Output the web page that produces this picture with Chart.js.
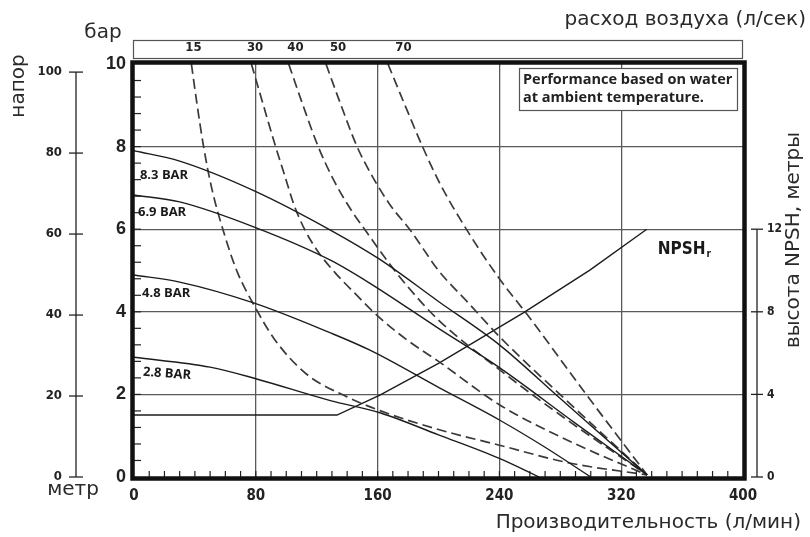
<!DOCTYPE html>
<html>
<head>
<meta charset="utf-8">
<script src="https://cdn.jsdelivr.net/npm/chart.js@4.4.1/dist/chart.umd.min.js"></script>
<style>
  html, body { margin: 0; padding: 0; background: #fff; }
  #wrap { width: 810px; height: 537px; }
</style>
</head>
<body>
<div id="wrap"><canvas id="pump" width="810" height="537"></canvas></div>
<script>
// axis ticks
var flowTicks = [0, 80, 160, 240, 320, 400];
var barTicks = [0, 2, 4, 6, 8, 10];
var meterTicks = [0, 20, 40, 60, 80, 100];
var npshTicks = [0, 4, 8, 12];
var airNames = ['15', '30', '40', '50', '70'];
var airNameFlow = [39, 79.5, 106, 134, 177];
var pressureNames = ['8.3 BAR', '6.9 BAR', '4.8 BAR', '2.8 BAR'];

// head curves at each inlet pressure: [flow l/min, bar]
var bar83 = [[0, 7.9], [30, 7.65], [79, 6.93], [129, 5.98], [161, 5.28], [200, 4.25], [240, 3.2], [280, 1.9], [320, 0.6], [337, 0.05]];
var bar69 = [[0, 6.83], [30, 6.66], [79, 6.05], [129, 5.25], [155, 4.69], [200, 3.6], [240, 2.65], [290, 1.3], [337, 0.05]];
var bar48 = [[0, 4.89], [30, 4.72], [79, 4.21], [129, 3.49], [155, 3.07], [200, 2.17], [240, 1.38], [270, 0.72], [300, 0]];
var bar28 = [[0, 2.9], [50, 2.66], [80, 2.38], [129, 1.85], [162, 1.55], [200, 1.02], [240, 0.45], [266, 0]];

// air consumption curves (l/s)
var air15 = [[37.7, 10], [41.5, 9], [45.7, 8], [51, 7], [60, 5.8], [68, 4.95], [79, 4.15], [92, 3.35], [113, 2.5], [140, 1.94], [162, 1.6], [200, 1.15], [240, 0.77], [286, 0.34], [337, 0.05]];
var air30 = [[77.1, 10], [85, 9], [93, 8], [99, 7.3], [105, 6.6], [112, 6.0], [121, 5.45], [132, 4.95], [145, 4.45], [160, 3.9], [180, 3.3], [200, 2.8], [240, 1.75], [290, 0.8], [337, 0.05]];
var air40 = [[101.6, 10], [111, 9], [121, 8], [131, 7.2], [142, 6.5], [153, 5.92], [165, 5.3], [180, 4.6], [200, 3.8], [240, 2.6], [280, 1.5], [337, 0.05]];
var air50 = [[126.1, 10], [136, 9], [146.5, 8], [157, 7.25], [168, 6.6], [182, 5.95], [200, 5.0], [220, 4.2], [240, 3.4], [290, 1.65], [337, 0.05]];
var air70 = [[166.8, 10], [178, 9], [189.5, 8], [201, 7.1], [220, 5.9], [240, 4.8], [260, 3.85], [297, 2.0], [337, 0.05]];

// NPSHr, metres
var npshR = [[0, 3], [133.3, 3], [161.5, 3.97], [200, 5.5], [255.4, 7.94], [299.4, 10.02], [336.8, 12]];

var COND = "'Liberation Sans Narrow', 'DejaVu Sans Condensed', 'Arial Narrow', sans-serif";
var SANS = "'Open Sans', 'DejaVu Sans', sans-serif";
var GEO = "'DejaVu Sans', sans-serif";

function pts(arr) {
    return arr.map(function (p) { return { x: p[0], y: p[1] }; });
}

var datasets = [];
[bar83, bar69, bar48, bar28].forEach(function (d, i) {
    datasets.push({
        label: pressureNames[i],
        data: pts(d),
        borderColor: '#1c1c1c',
        borderWidth: 1.4,
        pointRadius: 0,
        cubicInterpolationMode: 'monotone',
        fill: false
    });
});
[air15, air30, air40, air50, air70].forEach(function (d, i) {
    datasets.push({
        label: airNames[i],
        data: pts(d),
        borderColor: '#3a3a3a',
        borderWidth: 1.7,
        borderDash: [10, 5],
        pointRadius: 0,
        cubicInterpolationMode: 'monotone',
        fill: false
    });
});
datasets.push({
    label: 'NPSHr',
    data: pts(npshR),
    yAxisID: 'yN',
    borderColor: '#1c1c1c',
    borderWidth: 1.4,
    pointRadius: 0,
    tension: 0,
    fill: false
});

function setTicks(list) {
    return function (s) { s.ticks = list.map(function (v) { return { value: v }; }); };
}
function edgeClear(lo, hi, col) {
    return function (c) {
        if (c.tick && (c.tick.value === lo || c.tick.value === hi)) return 'rgba(0,0,0,0)';
        return col;
    };
}

// frame, minor ticks, side scales and all the loose text
var decor = {
    id: 'decor',
    beforeDraw: function (chart) {
        var ctx = chart.ctx;
        ctx.save();
        ctx.fillStyle = '#fff';
        ctx.fillRect(0, 0, chart.width, chart.height);
        ctx.restore();
    },
    afterDraw: function (chart) {
        var ctx = chart.ctx, a = chart.chartArea;
        var sx = chart.scales.x, sy = chart.scales.y, sm = chart.scales.yM, sn = chart.scales.yN;
        ctx.save();

        function seg(x1, y1, x2, y2) {
            ctx.beginPath(); ctx.moveTo(x1, y1); ctx.lineTo(x2, y2); ctx.stroke();
        }

        // minor ticks inside the frame
        ctx.strokeStyle = '#222';
        ctx.lineWidth = 1.2;
        for (var v = 10; v < 400; v += 10) {
            var px = sx.getPixelForValue(v);
            seg(px, a.bottom, px, a.bottom - 6);
        }
        for (var k = 1; k < 25; k++) {
            var py = sy.getPixelForValue(k * 0.4);
            seg(a.left, py, a.left + 7, py);
        }

        // info box
        var bx = a.right - 224, by = a.top + 4, bw = 218, bh = 42;
        ctx.fillStyle = '#fff';
        ctx.fillRect(bx, by, bw, bh);
        ctx.strokeStyle = '#555';
        ctx.lineWidth = 1.2;
        ctx.strokeRect(bx + 0.5, by + 0.5, bw, bh);
        ctx.fillStyle = '#222';
        ctx.font = 'bold 14.5px ' + SANS;
        ctx.textAlign = 'left';
        ctx.textBaseline = 'middle';
        ctx.fillText('Performance based on water', bx + 4, by + 12);
        ctx.fillText('at ambient temperature.', bx + 4, by + 30);

        // thick frame
        ctx.strokeStyle = '#111';
        ctx.lineWidth = 4.5;
        ctx.strokeRect(a.left - 1.5, a.top - 1.5, a.right - a.left + 3, a.bottom - a.top + 3);

        // air box on top
        ctx.strokeStyle = '#555';
        ctx.lineWidth = 1.2;
        ctx.strokeRect(a.left - 0.5, a.top - 23.5, a.right - a.left, 18);

        // metre scale
        ctx.strokeStyle = '#222';
        ctx.lineWidth = 1.3;
        var mx = sm.right - 8;
        seg(mx, sm.getPixelForValue(0), mx, sm.getPixelForValue(100));
        meterTicks.forEach(function (t) {
            var y = sm.getPixelForValue(t);
            seg(mx - 7, y, mx + 7, y);
        });

        // NPSH scale
        var nx = sn.left + 14;
        seg(nx, sn.getPixelForValue(0), nx, sn.getPixelForValue(12));
        npshTicks.forEach(function (t) {
            var y = sn.getPixelForValue(t);
            seg(nx - 6, y, nx + 6, y);
        });

        // curve labels
        ctx.fillStyle = '#1a1a1a';
        ctx.font = 'bold 13px ' + SANS;
        ctx.textAlign = 'left';
        ctx.textBaseline = 'middle';
        var spots = [[3.9, 7.31, 0], [2.6, 6.42, 0], [5.3, 4.46, 0], [5.9, 2.54, 0.07]];
        spots.forEach(function (s, i) {
            ctx.save();
            ctx.translate(sx.getPixelForValue(s[0]), sy.getPixelForValue(s[1]));
            ctx.rotate(s[2]);
            ctx.fillText(pressureNames[i], 0, 0);
            ctx.restore();
        });

        // NPSHr label
        var lx = sx.getPixelForValue(344), ly = sy.getPixelForValue(5.4);
        ctx.font = 'bold 17px ' + COND;
        ctx.textBaseline = 'alphabetic';
        ctx.fillText('NPSH', lx, ly);
        var w = ctx.measureText('NPSH').width;
        ctx.font = 'bold 10px ' + COND;
        ctx.fillText('r', lx + w + 1, ly + 3);

        // axis titles
        ctx.fillStyle = '#2a2a2a';
        ctx.font = '20px ' + GEO;
        ctx.textBaseline = 'middle';
        ctx.textAlign = 'center';
        ctx.fillText('бар', 103, 33);
        ctx.fillText('метр', 73, 490);
        ctx.textAlign = 'right';
        ctx.fillText('расход воздуха (л/сек)', 806, 20);
        ctx.fillText('Производительность (л/мин)', 801, 523);
        ctx.textAlign = 'center';
        ctx.save();
        ctx.translate(19, 86);
        ctx.rotate(-Math.PI / 2);
        ctx.fillText('напор', 0, 0);
        ctx.restore();
        ctx.save();
        ctx.translate(794, 240);
        ctx.rotate(-Math.PI / 2);
        ctx.fillText('высота NPSH, метры', 0, 0);
        ctx.restore();

        ctx.restore();
    }
};

var chart = new Chart(document.getElementById('pump'), {
    type: 'line',
    data: { datasets: datasets },
    options: {
        responsive: false,
        animation: false,
        layout: { padding: 0 },
        plugins: { legend: { display: false }, tooltip: { enabled: false } },
        scales: {
            x: {
                type: 'linear', min: 0, max: 400, position: 'bottom',
                afterBuildTicks: setTicks(flowTicks),
                afterFit: function (s) { s.height = 60; },
                ticks: { font: { family: COND, size: 15, weight: 'bold' }, color: '#222', padding: 10, autoSkip: false, maxRotation: 0 },
                grid: { drawTicks: false, color: edgeClear(0, 400, '#5a5a5a'), lineWidth: 1.3 },
                border: { display: false }
            },
            xAir: {
                type: 'linear', min: 0, max: 400, position: 'top',
                afterBuildTicks: setTicks(airNameFlow),
                afterFit: function (s) { s.height = 64; },
                ticks: {
                    callback: function (v, i) { return airNames[i]; },
                    font: { family: COND, size: 13, weight: 'bold' }, color: '#222', padding: 9, autoSkip: false, maxRotation: 0
                },
                grid: { display: false, drawTicks: false },
                border: { display: false }
            },
            y: {
                type: 'linear', min: 0, max: 10, position: 'left', weight: 0,
                afterBuildTicks: setTicks(barTicks),
                afterFit: function (s) { s.width = 50; },
                ticks: { font: { family: "'Liberation Sans', Arial, sans-serif", size: 18, weight: 'bold' }, color: '#222', padding: 8, autoSkip: false },
                grid: { drawTicks: false, color: edgeClear(0, 10, '#5a5a5a'), lineWidth: 1.3 },
                border: { display: false }
            },
            yM: {
                type: 'linear', min: 0, max: 102, position: 'left', weight: 1,
                afterBuildTicks: setTicks(meterTicks),
                afterFit: function (s) { s.width = 84; },
                ticks: { font: { family: COND, size: 13, weight: 'bold' }, color: '#222', padding: 22, autoSkip: false },
                grid: { display: false, drawTicks: false },
                border: { display: false }
            },
            yN: {
                type: 'linear', min: 0, max: 20, position: 'right',
                afterBuildTicks: setTicks(npshTicks),
                afterFit: function (s) { s.width = 67; },
                ticks: { font: { family: COND, size: 12, weight: 'bold' }, color: '#222', padding: 24, autoSkip: false },
                grid: { display: false, drawTicks: false },
                border: { display: false }
            }
        }
    },
    plugins: [decor]
});
</script>
</body>
</html>
